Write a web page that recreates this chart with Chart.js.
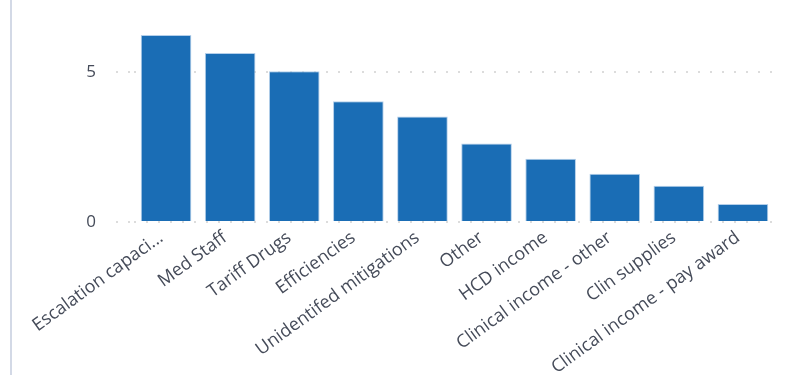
<!DOCTYPE html>
<html lang="en">
<head>
    <meta charset="UTF-8">
    <title>Variance by category</title>
    <style>
        html, body { margin: 0; padding: 0; background: #fff; }
        #wrap {
            position: relative;
            width: 790px;
            height: 375px;
        }
        #wrap::before {
            content: "";
            position: absolute;
            left: 10px;
            top: 0;
            width: 2px;
            height: 375px;
            background: #d3d9e6;
        }
    </style>
    <script src="https://cdn.jsdelivr.net/npm/chart.js"></script>
</head>
<body>
    <div id="wrap"><canvas id="chart" width="790" height="375"></canvas></div>
    <script>
        const categories = [
            "Escalation capaci...",
            "Med Staff",
            "Tariff Drugs",
            "Efficiencies",
            "Unidentifed mitigations",
            "Other",
            "HCD income",
            "Clinical income - other",
            "Clin supplies",
            "Clinical income - pay award"
        ];
        const values = [6.24, 5.64, 5.03, 4.03, 3.52, 2.62, 2.11, 1.61, 1.21, 0.60];
        const yTicks = [0, 5];

        const textColor = "#454b59";
        const font = "'Open Sans', 'Noto Sans', sans-serif";

        const ctx = document.getElementById("chart").getContext("2d");

        new Chart(ctx, {
            type: "bar",
            data: {
                labels: categories,
                datasets: [{
                    data: values,
                    backgroundColor: "#1a6db5",
                    borderColor: "#b4cfea",
                    borderWidth: 1,
                    barPercentage: 0.79,
                    categoryPercentage: 1
                }]
            },
            options: {
                responsive: false,
                animation: false,
                layout: { padding: { top: 12, right: 15, left: 0, bottom: 0 } },
                plugins: {
                    legend: { display: false },
                    tooltip: { enabled: false }
                },
                scales: {
                    x: {
                        afterFit: (scale) => { scale.height = 153; },
                        grid: { display: false },
                        border: { display: false },
                        ticks: {
                            color: textColor,
                            font: { family: font, size: 18 },
                            minRotation: 36,
                            maxRotation: 36,
                            autoSkip: false,
                            padding: -3,
                            labelOffset: -5
                        }
                    },
                    y: {
                        min: 0,
                        max: 6.4,
                        afterFit: (scale) => { scale.width = 134; },
                        afterBuildTicks: (scale) => {
                            scale.ticks = yTicks.map(v => ({ value: v }));
                        },
                        border: { display: false, dash: [2, 10] },
                        grid: {
                            color: "#dcdcdc",
                            lineWidth: 2,
                            tickLength: 18,
                            drawTicks: true,
                            tickBorderDash: [2, 10]
                        },
                        ticks: {
                            color: textColor,
                            font: { family: font, size: 17 },
                            padding: 20
                        }
                    }
                }
            }
        });
    </script>
</body>
</html>
